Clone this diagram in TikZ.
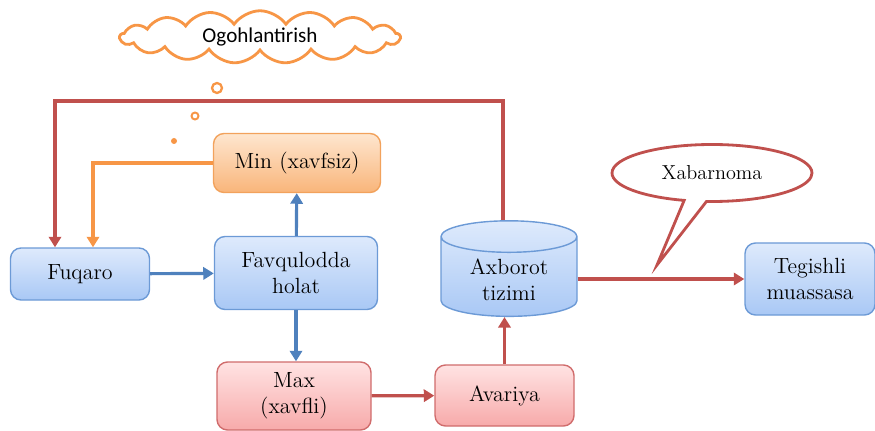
\documentclass[tikz,border=0pt]{standalone}
\usepackage{fontspec}
\newfontfamily\bubblefont{Carlito}
\usetikzlibrary{arrows.meta, shapes.geometric, shapes.symbols, shapes.callouts}
\definecolor{bluetop}{HTML}{DEEAFC}
\definecolor{bluefill}{HTML}{A9C8F5}
\definecolor{blueline}{HTML}{6C9AD6}
\definecolor{bluearrow}{HTML}{4F81BD}
\definecolor{redtop}{HTML}{FFE3E3}
\definecolor{redfill}{HTML}{F7AAAA}
\definecolor{redline}{HTML}{D06C6C}
\definecolor{redarrow}{HTML}{C0504D}
\definecolor{orangetop}{HTML}{FEE6CF}
\definecolor{orangefill}{HTML}{F9B57A}
\definecolor{orangeline}{HTML}{F2A25C}
\definecolor{orangearrow}{HTML}{F79646}

\begin{document}
\begin{tikzpicture}[
    box/.style={
        rectangle,
        rounded corners=6pt,
        line width=0.8pt,
        align=center,
        inner sep=2pt,
        font=\fontsize{12.5}{15}\selectfont,
    },
    bluebox/.style={box, draw=blueline, top color=bluetop, bottom color=bluefill},
    redbox/.style={box, draw=redline, top color=redtop, bottom color=redfill},
    orangebox/.style={box, draw=orangeline, top color=orangetop, bottom color=orangefill},
    bluearr/.style={bluearrow, line width=1.8pt, -{Triangle[length=6pt, width=7pt]}},
    redarr/.style={redarrow, line width=1.8pt, -{Triangle[length=6pt, width=7pt]}},
    orangearr/.style={orangearrow, line width=1.8pt, -{Triangle[length=6pt, width=7pt]}},
]
\useasboundingbox (0,0) rectangle (17.5,8.6);

% =============================================
% BOXES
% =============================================
\node[bluebox, minimum width=2.78cm, minimum height=1.04cm] (fuq) at (1.6,3.12) {Fuqaro};
\node[bluebox, minimum width=3.26cm, minimum height=1.46cm] (fav) at (5.92,3.14) {Favqulodda\\holat};
\node[orangebox, minimum width=3.34cm, minimum height=1.18cm] (min) at (5.94,5.34) {Min (xavfsiz)};
\node[redbox, minimum width=3.08cm, minimum height=1.36cm] (max) at (5.88,0.68) {Max\\(xavfli)};
\node[redbox, minimum width=2.78cm, minimum height=1.22cm] (ava) at (10.09,0.69) {Avariya};
\node[bluebox, minimum width=2.6cm, minimum height=1.44cm] (teg) at (16.2,3.02) {Tegishli\\muassasa};

% Database cylinder
\node[cylinder, shape border rotate=90, aspect=0.35, draw=blueline, line width=0.8pt,
      top color=bluetop, bottom color=bluefill, align=center,
      font=\fontsize{12.5}{15}\selectfont,
      minimum width=2.72cm, minimum height=1.84cm] (axb) at (10.18,3.0) {Axborot\\tizimi};

% =============================================
% WARNING CLOUD + thought dots
% =============================================
\node[cloud, cloud puffs=17, cloud puff arc=110, aspect=5.6, draw=orangearrow, line width=1.6pt,
      fill=white, inner sep=1pt, minimum width=5.6cm, minimum height=1.05cm,
      font=\bubblefont\fontsize{12}{14}\selectfont] (warn) at (5.2,7.86) {Ogohlantirish};
\draw[orangearrow, line width=1.3pt] (4.34,6.84) circle (0.1);
\draw[orangearrow, line width=1.1pt] (3.9,6.28) circle (0.07);
\fill[orangearrow] (3.48,5.78) circle (0.06);

% =============================================
% CONNECTORS
% =============================================
% blue: citizen -> emergency -> min / max
\draw[bluearr] (fuq) -- (fav);
\draw[bluearr] (fav) -- (min);
\draw[bluearr] (fav.south) -- (fav.south |- max.north);

% red: max -> accident -> info system -> institution
\draw[redarr] (max) -- (ava);
\draw[redarr] (ava.north) -- (ava.north |- axb.south);
\draw[redarr] (axb.east |- teg) -- (teg);

% red feedback frame back to citizen
\coordinate (frameR) at (10.06,6.58);
\coordinate (frameL) at (1.1,6.58);
\draw[redarr] (frameR |- axb.north) -- (frameR) -- (frameL) -- (frameL |- fuq.north);

% orange feedback from min to citizen
\coordinate (minL) at (1.86,5.34);
\draw[orangearr] (min.west) -- (minL) -- (minL |- fuq.north);

% =============================================
% NOTICE CALLOUT
% =============================================
\node[ellipse callout, draw=redarrow, line width=1.6pt, fill=white,
      minimum width=4cm, minimum height=1.14cm,
      callout absolute pointer={(13.14,3.3)}, callout pointer arc=13,
      font=\fontsize{11.5}{14}\selectfont] (note) at (14.24,5.14) {Xabarnoma};

\end{tikzpicture}
\end{document}
